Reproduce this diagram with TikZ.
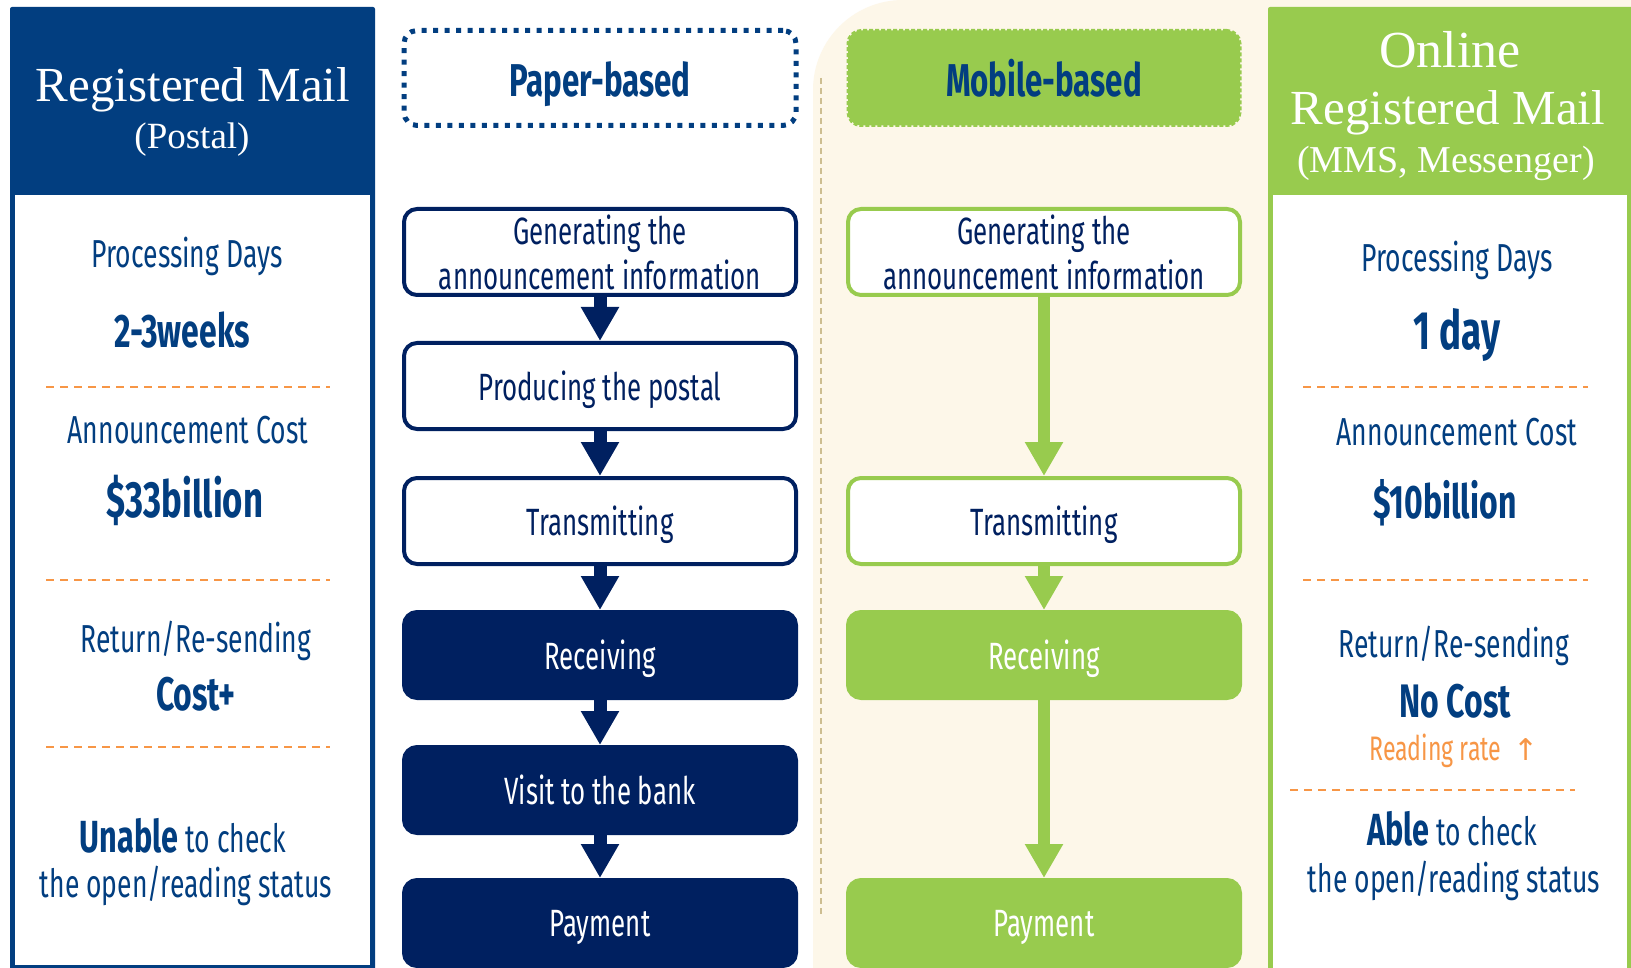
\documentclass[tikz,border=0pt]{standalone}
\usepackage{fontspec}
\setmainfont{Liberation Serif}
\newfontfamily\agency[FakeStretch=0.68]{Fira Sans}
\newfontfamily\arrowfont{DejaVu Sans}
\usetikzlibrary{arrows.meta}
\definecolor{panelblue}{RGB}{2,62,128}
\definecolor{flownavy}{RGB}{0,32,96}
\definecolor{leafgreen}{RGB}{152,203,78}
\definecolor{lineorange}{RGB}{247,150,70}
\definecolor{paperbg}{RGB}{253,247,233}
\definecolor{tanline}{RGB}{205,190,145}
\begin{document}
\begin{tikzpicture}[x=1pt,y=-1pt,
	flowbox/.style={rounded corners=13pt,minimum width=392pt,minimum height=86pt,line width=4pt,inner sep=0pt,text depth=0pt,align=center,font=\agency\fontsize{38}{45}\selectfont},
	paperstep/.style={flowbox,draw=flownavy,fill=white,text=flownavy},
	paperdone/.style={flowbox,draw=flownavy,fill=flownavy,text=white},
	mobilestep/.style={flowbox,draw=leafgreen,fill=white,text=flownavy},
	mobiledone/.style={flowbox,draw=leafgreen,fill=leafgreen,text=white},
	colhead/.style={minimum width=392pt,minimum height=95pt,rounded corners=13pt,inner sep=0pt,text height=40pt,text depth=2pt,text=panelblue,font=\agency\bfseries\fontsize{46}{50}\selectfont},
	paperarrow/.style={flownavy,line width=13pt,-{Triangle[width=36pt,length=34pt]}},
	mobilearrow/.style={leafgreen,line width=12pt,-{Triangle[width=36pt,length=34pt]}},
	headtext/.style={text=white,anchor=base,inner sep=0pt},
	lbl/.style={text=panelblue,anchor=base,inner sep=0pt,font=\agency\fontsize{39}{44}\selectfont},
	val/.style={text=panelblue,anchor=base,inner sep=0pt,font=\agency\bfseries\fontsize{47}{52}\selectfont},
	orangerule/.style={lineorange,line width=2pt,dash pattern=on 8pt off 6pt}]
	\useasboundingbox (0,0) rectangle (1631,968);
	\fill[white] (0,0) rectangle (1631,968);
	\fill[paperbg,rounded corners=90pt] (813,0) rectangle (1720,1060);
	\draw[tanline,line width=1.5pt,dash pattern=on 6pt off 4pt] (821,78) -- (821,915);

	\fill[panelblue,rounded corners=2pt] (10,7) rectangle (375,980);
	\fill[white] (15,195) rectangle (370,965);
	\node[headtext,font=\fontsize{49}{49}\selectfont] (posttitle) at (193,102) {Registered Mail};
	\node[headtext,font=\fontsize{37}{37}\selectfont] (postsub) at (192,149) {(Postal)};
	\node[lbl] (postdayslbl) at (187,268) {Processing Days};
	\node[val] (postdays) at (182,348) {2-3weeks};
	\draw[orangerule] (46,387) -- (330,387);
	\node[lbl] (postcostlbl) at (188,443) {Announcement Cost};
	\node[val,font=\agency\bfseries\fontsize{51}{54}\selectfont] (postcost) at (185,517) {\$33billion};
	\draw[orangerule] (46,580) -- (330,580);
	\node[lbl] (postretlbl) at (196,652) {Return/Re-sending};
	\node[val] (postret) at (196,710) {Cost+};
	\draw[orangerule] (46,747) -- (330,747);
	\node[lbl] (postcheck) at (183,852) {{\bfseries\fontsize{45}{50}\selectfont Unable} to check};
	\node[lbl] (poststatus) at (186,897) {the open/reading status};

	\fill[leafgreen,rounded corners=2pt] (1268,7) rectangle (1660,990);
	\fill[white] (1273,195) rectangle (1627,990);
	\node[headtext,font=\fontsize{52}{52}\selectfont] (webtop) at (1450,68) {Online};
	\node[headtext,font=\fontsize{49}{49}\selectfont] (webtitle) at (1448,125) {Registered Mail};
	\node[headtext,font=\fontsize{38}{38}\selectfont] (websub) at (1446,173) {(MMS, Messenger)};
	\node[lbl] (webdayslbl) at (1457,272) {Processing Days};
	\node[val,font=\agency\bfseries\fontsize{54}{58}\selectfont] (webdays) at (1457,350) {1 day};
	\draw[orangerule] (1303,387) -- (1588,387);
	\node[lbl] (webcostlbl) at (1457,445) {Announcement Cost};
	\node[val] (webcost) at (1445,518) {\$10billion};
	\draw[orangerule] (1303,580) -- (1588,580);
	\node[lbl] (webretlbl) at (1454,657) {Return/Re-sending};
	\node[val] (webret) at (1455,717) {No Cost};
	\node[lbl,text=lineorange,font=\agency\fontsize{34}{38}\selectfont] (webrate) at (1454,760) {Reading rate\ \ {\arrowfont\fontsize{30}{30}\selectfont ↑}};
	\draw[orangerule] (1290,790) -- (1575,790);
	\node[lbl] (webcheck) at (1452,845) {{\bfseries\fontsize{45}{50}\selectfont Able} to check};
	\node[lbl] (webstatus) at (1454,892) {the open/reading status};

	\node[colhead,draw=panelblue,line width=5pt,dash pattern=on 5pt off 6.5pt] (paperhead) at (600,78) {Paper-based};
	\node[colhead,fill=leafgreen,draw=leafgreen,line width=3pt,dash pattern=on 4pt off 2pt] (mobilehead) at (1044,78) {Mobile-based};

	\node[paperstep] (pgen) at (600,252) {Generating the\\announcement information};
	\node[paperstep] (pprod) at (600,386) {Producing the postal};
	\node[paperstep] (ptrans) at (600,521) {Transmitting};
	\node[paperdone] (precv) at (600,655) {Receiving};
	\node[paperdone] (pbank) at (600,790) {Visit to the bank};
	\node[paperdone] (ppay) at (600,923) {Payment};
	\draw[paperarrow] (pgen) -- (pprod);
	\draw[paperarrow] (pprod) -- (ptrans);
	\draw[paperarrow] (ptrans) -- (precv);
	\draw[paperarrow] (precv) -- (pbank);
	\draw[paperarrow] (pbank) -- (ppay);

	\node[mobilestep] (mgen) at (1044,252) {Generating the\\announcement information};
	\node[mobilestep] (mtrans) at (1044,521) {Transmitting};
	\node[mobiledone] (mrecv) at (1044,655) {Receiving};
	\node[mobiledone] (mpay) at (1044,923) {Payment};
	\draw[mobilearrow] (mgen) -- (mtrans);
	\draw[mobilearrow] (mtrans) -- (mrecv);
	\draw[mobilearrow] (mrecv) -- (mpay);
\end{tikzpicture}
\end{document}
